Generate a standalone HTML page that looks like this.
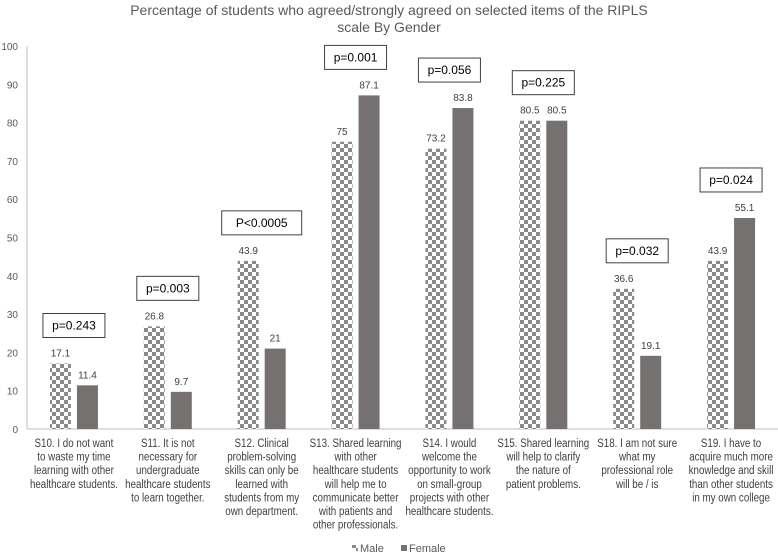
<!DOCTYPE html>
<html><head><meta charset="utf-8"><style>
body{margin:0;background:#fff;}
svg{display:block;font-family:"Liberation Sans",sans-serif;}
.cat{font-family:"Liberation Sans",sans-serif;font-size:11.5px;fill:#404040;}
</style></head><body>
<svg id="c" width="778" height="554">
<defs>
<pattern id="chk" width="8" height="8" patternUnits="userSpaceOnUse">
<rect width="8" height="8" fill="#fff"/><rect width="4" height="4" fill="#8a8a8a"/><rect x="4" y="4" width="4" height="4" fill="#8a8a8a"/>
</pattern>
</defs>
<text x="389" y="15" text-anchor="middle" font-size="14" fill="#595959">Percentage of students who agreed/strongly agreed on selected items of the RIPLS</text>
<text x="389" y="32" text-anchor="middle" font-size="14" fill="#595959">scale By Gender</text>
<g id="plot"></g>
<g>
<rect x="352" y="545" width="6" height="6" fill="url(#chk)"/>
<text x="360" y="552" font-size="11" fill="#595959">Male</text>
<rect x="401" y="545" width="6" height="6" fill="#767171"/>
<text x="409" y="552" font-size="11" fill="#595959">Female</text>
</g>
</svg>
<script>
const categories=[
["S10. I do not want","to waste my time","learning with other","healthcare students."],
["S11. It is not","necessary for","undergraduate","healthcare students","to learn together."],
["S12. Clinical","problem-solving","skills can only be","learned with","students from my","own department."],
["S13. Shared learning","with other","healthcare students","will help me to","communicate better","with patients and","other professionals."],
["S14. I would","welcome the","opportunity to work","on small-group","projects with other","healthcare students."],
["S15. Shared learning","will help to clarify","the nature of","patient problems."],
["S18. I am not sure","what my","professional role","will be / is"],
["S19. I have to","acquire much more","knowledge and skill","than other students","in my own college"]];
const male=[17.1,26.8,43.9,75,73.2,80.5,36.6,43.9];
const female=[11.4,9.7,21,87.1,83.8,80.5,19.1,55.1];
const pvals=["p=0.243","p=0.003","P<0.0005","p=0.001","p=0.056","p=0.225","p=0.032","p=0.024"];
const yTicks=[0,10,20,30,40,50,60,70,80,90,100];
const NS="http://www.w3.org/2000/svg";
const g=document.getElementById('plot');
const x0=27,x1=778,y0=429,yTop=46,gw=(x1-x0)/8,bw=21;
const y=v=>y0-(v/100)*(y0-yTop);
function el(t,a,txt){const e=document.createElementNS(NS,t);for(const k in a)e.setAttribute(k,a[k]);if(txt!==undefined)e.textContent=txt;g.appendChild(e);return e;}
yTicks.forEach(t=>{const e=el('text',{x:18,y:y(t)+4,'text-anchor':'end','font-size':10,fill:'#595959'},t);

});
const ax=el('line',{x1:x0,y1:yTop,x2:x0,y2:y0,stroke:'#bfbfbf'});


const xa=el('line',{x1:x0,y1:y0,x2:x1,y2:y0,stroke:'#bfbfbf'});


categories.forEach((lines,i)=>{
 const c=x0+gw*i+gw/2;
 const mx=c-bw-3,fx=c+3;
 const m=el('rect',{x:mx,y:y(male[i]),width:bw,height:y0-y(male[i]),fill:'url(#chk)'});
 
 
 const f=el('rect',{x:fx,y:y(female[i]),width:bw,height:y0-y(female[i]),fill:'#767171'});
 
 
 const lm=el('text',{x:mx+bw/2,y:y(male[i])-7,'text-anchor':'middle','font-size':10,fill:'#404040'},male[i]);
 
 
 const lf=el('text',{x:fx+bw/2,y:y(female[i])-7,'text-anchor':'middle','font-size':10,fill:'#404040'},female[i]);
 
 
 const top=y(Math.max(male[i],female[i]));
 const bwid=pvals[i].length>7?80:62;
 const by=top-50;
 const b=el('rect',{x:c-bwid/2,y:by,width:bwid,height:24,fill:'#fff',stroke:'#404040','stroke-width':1});
 
 
 const pt=el('text',{x:c,y:by+16,'text-anchor':'middle','font-size':12,fill:'#000'},pvals[i]);
 
 
 lines.forEach((ln,j)=>{const t=el('text',{x:c,y:447+j*13.6,'text-anchor':'middle',class:'cat'},ln);
 
 
 const L=t.getComputedTextLength();
 if(L>0){t.setAttribute('textLength',(L*0.85).toFixed(1));t.setAttribute('lengthAdjust','spacingAndGlyphs');}
 });
});
</script>
</body></html>
